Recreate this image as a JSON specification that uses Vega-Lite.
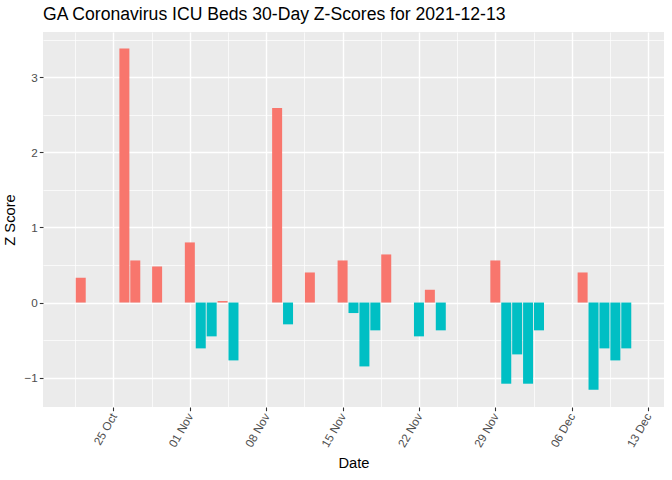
{
  "$schema": "https://vega.github.io/schema/vega-lite/v6.json",
  "autosize": {"type": "none"},
  "padding": {"left": 43, "top": 32, "right": 8, "bottom": 73},
  "width": 621,
  "height": 375,
  "background": "white",
  "title": {
    "text": "GA Coronavirus ICU Beds 30-Day Z-Scores for 2021-12-13",
    "anchor": "start",
    "frame": "group",
    "font": "Liberation Sans",
    "fontSize": 17.6,
    "fontWeight": "normal",
    "color": "#000000",
    "offset": 8
  },
  "config": {
    "view": {"stroke": null, "fill": "#EBEBEB"},
    "axis": {
      "labelFont": "Liberation Sans",
      "titleFont": "Liberation Sans",
      "labelColor": "#4D4D4D",
      "labelFontSize": 11.7,
      "titleFontSize": 14.7,
      "titleFontWeight": "normal",
      "titleColor": "#000000",
      "domain": false,
      "tickColor": "#333333",
      "tickSize": 3.7,
      "tickWidth": 1.1,
      "gridColor": "#FFFFFF",
      "gridOpacity": 1
    }
  },
  "resolve": {"axis": {"x": "independent", "y": "independent"}},
  "data": {
    "values": [
      {"date": "2021-10-22", "z": 0.33},
      {"date": "2021-10-26", "z": 3.38},
      {"date": "2021-10-27", "z": 0.56},
      {"date": "2021-10-29", "z": 0.48},
      {"date": "2021-11-01", "z": 0.80},
      {"date": "2021-11-02", "z": -0.61},
      {"date": "2021-11-03", "z": -0.45},
      {"date": "2021-11-04", "z": 0.02},
      {"date": "2021-11-05", "z": -0.77},
      {"date": "2021-11-09", "z": 2.59},
      {"date": "2021-11-10", "z": -0.29},
      {"date": "2021-11-12", "z": 0.40},
      {"date": "2021-11-15", "z": 0.56},
      {"date": "2021-11-16", "z": -0.14},
      {"date": "2021-11-17", "z": -0.85},
      {"date": "2021-11-18", "z": -0.37},
      {"date": "2021-11-19", "z": 0.64},
      {"date": "2021-11-22", "z": -0.45},
      {"date": "2021-11-23", "z": 0.17},
      {"date": "2021-11-24", "z": -0.37},
      {"date": "2021-11-29", "z": 0.56},
      {"date": "2021-11-30", "z": -1.08},
      {"date": "2021-12-01", "z": -0.69},
      {"date": "2021-12-02", "z": -1.08},
      {"date": "2021-12-03", "z": -0.37},
      {"date": "2021-12-07", "z": 0.40},
      {"date": "2021-12-08", "z": -1.16},
      {"date": "2021-12-09", "z": -0.61},
      {"date": "2021-12-10", "z": -0.77},
      {"date": "2021-12-11", "z": -0.61}
    ]
  },
  "layer": [
    {
      "mark": {"type": "point", "opacity": 0},
      "encoding": {
        "x": {
          "field": "date", "type": "temporal",
          "scale": {"type": "utc", "domain": [1634601600000, 1639440000000]},
          "axis": {
            "orient": "bottom",
            "values": [1634817600000, 1635422400000, 1636027200000, 1636632000000, 1637236800000, 1637841600000, 1638446400000, 1639051200000],
            "grid": true, "gridWidth": 0.71, "labels": false, "ticks": false, "title": null, "domain": false
          }
        },
        "y": {
          "field": "z", "type": "quantitative",
          "scale": {"domain": [-1.39, 3.6], "nice": false, "zero": false},
          "axis": {
            "orient": "left",
            "values": [-0.5, 0.5, 1.5, 2.5, 3.5],
            "grid": true, "gridWidth": 0.71, "labels": false, "ticks": false, "title": null, "domain": false
          }
        }
      }
    },
    {
      "mark": {"type": "bar", "size": 10},
      "encoding": {
        "x": {
          "field": "date", "type": "temporal",
          "scale": {"type": "utc", "domain": [1634601600000, 1639440000000]},
          "axis": {
            "orient": "bottom",
            "values": [1635120000000, 1635724800000, 1636329600000, 1636934400000, 1637539200000, 1638144000000, 1638748800000, 1639353600000],
            "labelExpr": "utcFormat(datum.value, '%d %b')",
            "grid": true, "gridWidth": 1.42,
            "labelAngle": -60, "labelAlign": "right", "labelBaseline": "middle",
            "labelPadding": 3,
            "title": "Date", "titlePadding": 6
          }
        },
        "y": {
          "field": "z", "type": "quantitative",
          "scale": {"domain": [-1.39, 3.6], "nice": false, "zero": false},
          "axis": {
            "orient": "left",
            "values": [-1, 0, 1, 2, 3],
            "grid": true, "gridWidth": 1.42,
            "labelPadding": 2,
            "title": "Z Score", "titlePadding": 6
          }
        },
        "color": {
          "condition": {"test": "datum.z > 0", "value": "#F8766D"},
          "value": "#00BFC4"
        }
      }
    }
  ]
}
